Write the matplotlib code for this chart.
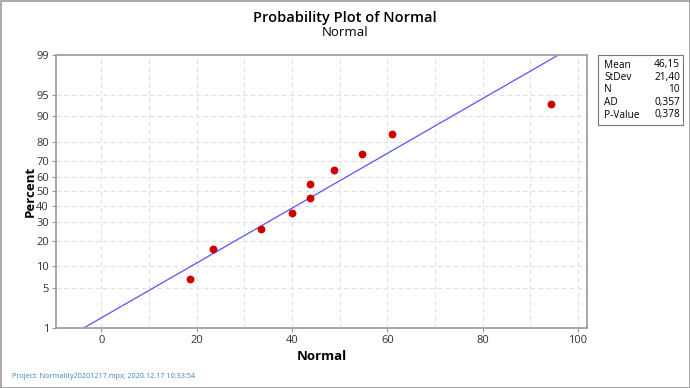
import math
import numpy as np
import matplotlib
matplotlib.use('Agg')
import matplotlib.pyplot as plt
from matplotlib.patches import Rectangle

plt.rcParams['font.family'] = ['Open Sans', 'DejaVu Sans']

# data
values = [18.6, 23.4, 33.4, 39.9, 43.7, 43.8, 48.8, 54.7, 61.0, 94.3]
mean = 46.15
stdev = 21.40
n_obs = 10
ad_stat = '0,357'
p_value = '0,378'
percent_ticks = [1, 5, 10, 20, 30, 40, 50, 60, 70, 80, 90, 95, 99]
x_ticks = [0, 20, 40, 60, 80, 100]


def norm_ppf(p):
    # bisection on the normal cdf
    lo, hi = -10.0, 10.0
    for _ in range(80):
        mid = (lo + hi) / 2
        if 0.5 * (1 + math.erf(mid / math.sqrt(2))) < p:
            lo = mid
        else:
            hi = mid
    return (lo + hi) / 2


# median ranks (i - 0.3) / (n + 0.4)
xs = sorted(values)
ranks = [(i + 1 - 0.3) / (len(xs) + 0.4) for i in range(len(xs))]
ys = [norm_ppf(r) for r in ranks]

fig = plt.figure(figsize=(6.9, 3.88), dpi=100)
ax = fig.add_axes([56 / 690, 1 - 327.7 / 388, (587.3 - 56) / 690, (327.7 - 55) / 388])

z_lo = norm_ppf(0.01)
z_hi = norm_ppf(0.99)

# fitted line
zz = np.linspace(z_lo, z_hi, 50)
ax.plot(mean + stdev * zz, zz, color='#5555FF', lw=0.9, zorder=2)

ax.scatter(xs, ys, s=32, color='#CC0000', zorder=3, linewidths=0)

ax.set_xlim(-9.55, 102)
ax.set_ylim(z_lo, z_hi)

ax.set_xticks(x_ticks)
ax.set_xticks([10, 30, 50, 70, 90], minor=True)
ax.set_yticks([norm_ppf(p / 100) for p in percent_ticks])
ax.set_yticklabels([str(p) for p in percent_ticks])

for v in range(0, 101, 10):
    ax.axvline(v, color='#E0E0E0', lw=0.8, ls=(0, (4, 3)), zorder=1)
for p in percent_ticks[1:-1]:
    ax.axhline(norm_ppf(p / 100), color='#E0E0E0', lw=0.8, ls=(0, (4, 3)), zorder=1)

ax.tick_params(axis='both', which='major', labelsize=8, length=3, color='#999999',
               labelcolor='#333333', pad=2)
ax.tick_params(axis='x', which='minor', length=0)
for s in ax.spines.values():
    s.set_color('#999999')
    s.set_linewidth(1.2)

ax.set_xlabel('Normal', fontsize=9.5, fontweight='bold', labelpad=3)
ax.set_ylabel('Percent', fontsize=9.5, fontweight='bold', labelpad=0)

fig.text(0.5, 1 - 18 / 388, 'Probability Plot of Normal', ha='center', va='center',
         fontsize=10.5, fontweight='semibold')
fig.text(0.5, 1 - 33 / 388, 'Normal', ha='center', va='center', fontsize=9.5)

# stats box
fig.patches.append(Rectangle((598 / 690, 1 - 125 / 388), 85 / 690, 70 / 388,
                             transform=fig.transFigure, fill=False,
                             edgecolor='#777777', lw=0.8))
labels = ['Mean', 'StDev', 'N', 'AD', 'P-Value']
stats = ['46,15', '21,40', str(n_obs), ad_stat, p_value]
for i, (lab, val) in enumerate(zip(labels, stats)):
    yy = 1 - (65 + i * 12.5) / 388
    fig.text(604 / 690, yy, lab, ha='left', va='center', fontsize=7.3)
    fig.text(680 / 690, yy, val, ha='right', va='center', fontsize=7.3)

fig.text(12 / 690, 1 - 377 / 388, 'Project: Normality20201217.mpx; 2020.12.17 10:33:54',
         ha='left', va='center', fontsize=5.2, color='#3A87B0')

# outer frame
fig.patches.append(Rectangle((0.5 / 690, 0.5 / 388), 689 / 690, 387 / 388,
                             transform=fig.transFigure, fill=False,
                             edgecolor='#999999', lw=1.2))

fig.savefig('out.png', dpi=100)
